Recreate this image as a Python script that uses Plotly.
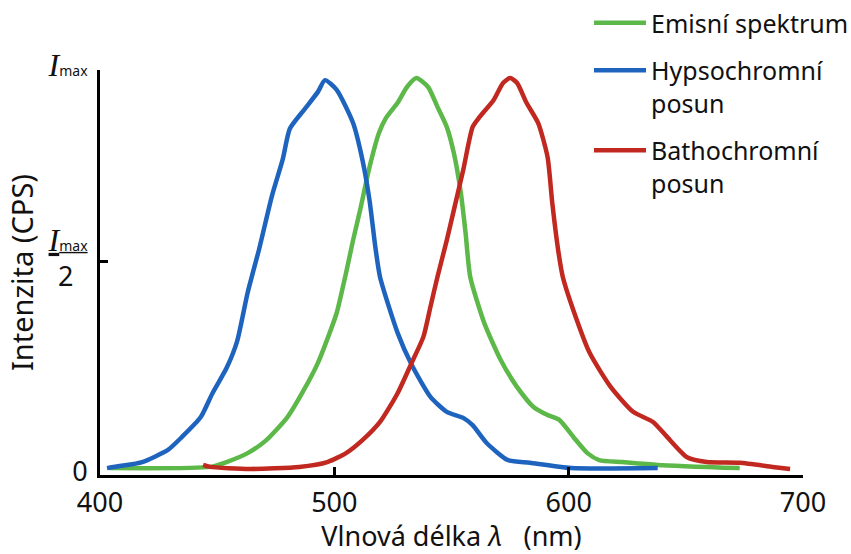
import plotly.graph_objects as go

# ---- data ----
emis_x = [404, 447, 454, 463, 471, 480, 487, 493, 498, 501, 505, 508, 511, 515, 519, 522, 527, 531, 535,
          540, 544, 548, 551, 554, 556, 558, 564, 571, 578, 585, 591, 596, 602, 608, 613, 623, 638, 673]
emis_y = [0.017, 0.02, 0.032, 0.054, 0.086, 0.143, 0.21, 0.277, 0.351, 0.40, 0.499, 0.58, 0.654, 0.76, 0.844,
          0.881, 0.919, 0.958, 0.98, 0.958, 0.909, 0.859, 0.795, 0.696, 0.598, 0.489, 0.375, 0.284, 0.217,
          0.168, 0.148, 0.136, 0.094, 0.054, 0.037, 0.032, 0.025, 0.017]

hypso_x = [403, 408.5, 418, 429, 435, 443, 448, 454, 458.5, 463, 468, 473.4, 478, 481, 487, 493, 496,
           501, 508, 512, 515, 517.5, 519.5, 527, 533, 541, 548, 555, 559, 565, 574, 583.5, 601, 638]
hypso_y = [0.017, 0.022, 0.032, 0.062, 0.094, 0.143, 0.202, 0.264, 0.33, 0.45, 0.56, 0.69,
           0.78, 0.855, 0.901, 0.946, 0.975, 0.951, 0.869, 0.778, 0.679, 0.563, 0.489, 0.351, 0.272, 0.193,
           0.156, 0.141, 0.123, 0.079, 0.037, 0.030, 0.017, 0.017]

batho_x = [444, 447, 464, 485, 497, 505, 512, 519.5, 527, 533, 538, 541, 544, 548, 551, 555, 559, 562, 568,
           572, 575, 578, 582, 587, 591, 593, 595.5, 597.5, 602, 609, 618, 627.5, 636, 642, 650.5, 659, 673,
           687, 694.5]
batho_y = [0.025, 0.02, 0.015, 0.02, 0.032, 0.054, 0.086, 0.131, 0.202, 0.277, 0.341, 0.415, 0.489, 0.58,
           0.654, 0.753, 0.859, 0.884, 0.926, 0.968, 0.98, 0.968, 0.919, 0.869, 0.785, 0.672, 0.556, 0.489,
           0.407, 0.301, 0.217, 0.156, 0.131, 0.094, 0.044, 0.032, 0.030, 0.02, 0.015]

names = ["Emisní spektrum", "Hypsochromní<br>posun", "Bathochromní<br>posun"]
colors = ["#5cb848", "#1e64be", "#c02820"]

x_ticks = [400, 500, 600, 700]
y_ticks = [0, 0.526, 1]
imax = ("<span style='font-family:Liberation Serif;font-size:32px'><i>I</i></span>"
        "<span style='font-size:14px'>max</span>")
y_ticktext = ["0", "<u>" + imax + "</u><br>2&nbsp;&nbsp;", imax]

fig = go.Figure()
for xs, ys, nm, c in zip([emis_x, hypso_x, batho_x], [emis_y, hypso_y, batho_y], names, colors):
    fig.add_trace(go.Scatter(x=xs, y=ys, name=nm, mode="lines", legendgroup=nm,
                             line=dict(color=c, width=4.5, shape="spline", smoothing=0.6)))

font = "Noto Sans"
L, R, T, B = 100, 48, 70, 79
W, H = 851 - L - R, 554 - T - B
fig.update_layout(
    width=851, height=554,
    margin=dict(l=L, r=R, t=T, b=B, autoexpand=False),
    paper_bgcolor="white", plot_bgcolor="white",
    font=dict(family=font, color="#111111", size=27),
    showlegend=True,
    legend=dict(x=(589 - L) / W, y=1 + (T - 0) / H, xanchor="left", yanchor="top",
                font=dict(size=25, family=font, color="#111111"), valign="top",
                tracegroupgap=12, bgcolor="rgba(0,0,0,0)", itemwidth=52),
    xaxis=dict(range=[400, 700], tickvals=x_ticks, ticktext=[str(v) for v in x_ticks],
               showline=True, linecolor="black", linewidth=3, ticks="inside", ticklen=8,
               tickwidth=3, tickcolor="black", showgrid=False, zeroline=False,
               tickfont=dict(size=27, family=font), ticklabelstandoff=2, automargin=True,
               title=dict(text="Vlnová délka <i>λ</i>&nbsp;&nbsp;&nbsp;(nm)", font=dict(size=27, family=font),
                          standoff=6)),
    yaxis=dict(range=[0, 1], tickvals=y_ticks, ticktext=y_ticktext,
               showline=True, linecolor="black", linewidth=3, ticks="inside", ticklen=8,
               tickwidth=3, tickcolor="black", showgrid=False, zeroline=False,
               tickfont=dict(size=27, family=font), ticklabelstandoff=4, ticklabelshift=-3,
               automargin=False,
               title=dict(text="Intenzita (CPS)", font=dict(size=29, family=font), standoff=6)),
)

fig.write_html("out.html")
